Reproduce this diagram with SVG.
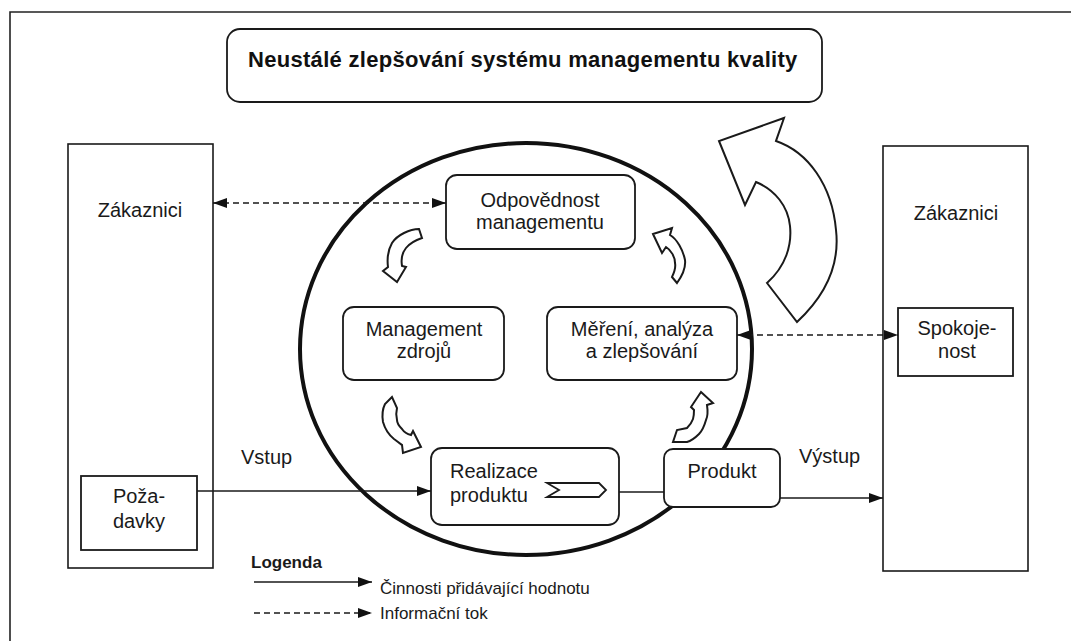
<svg xmlns="http://www.w3.org/2000/svg" width="1071" height="641" viewBox="0 0 1071 641">
  <style>
    .box { fill: #fff; stroke: #1a1a1a; stroke-width: 1.8; }
    .plain { fill: none; stroke: #1a1a1a; stroke-width: 1.6; }
    .txt { font-family: "Liberation Sans", Arial, sans-serif; font-size: 20px; fill: #1a1a1a; }
    .mid { text-anchor: middle; }
    .title { font-family: "Liberation Sans", Arial, sans-serif; font-size: 22px; font-weight: bold; fill: #111; letter-spacing: 0.3px; }
    .leg { font-family: "Liberation Sans", Arial, sans-serif; font-size: 17px; fill: #1a1a1a; }
    .flow { fill: none; stroke: #1a1a1a; stroke-width: 1.6; }
    .info { fill: none; stroke: #1a1a1a; stroke-width: 1.6; stroke-dasharray: 6 4; }
    .turn { fill: #fff; stroke: #1a1a1a; stroke-width: 2; stroke-linejoin: miter; }
  </style>
  <defs>
    <marker id="head" viewBox="0 0 14 10" refX="14" refY="5" markerWidth="14" markerHeight="10" markerUnits="userSpaceOnUse" orient="auto-start-reverse">
      <path d="M0,0 L14,5 L0,10 Z" fill="#111"/>
    </marker>
  </defs>

  <!-- page frame -->
  <path d="M10,641 L10,12 L1071,12" fill="none" stroke="#222" stroke-width="1.6"/>

  <!-- continual improvement banner -->
  <g id="banner">
    <rect class="box" x="227" y="29" width="595" height="73" rx="13"/>
    <text class="title" x="248" y="67">Neustálé zlepšování systému managementu kvality</text>
  </g>

  <!-- customers (input side) -->
  <g id="customers-in">
    <rect class="plain" x="68" y="144" width="145" height="424"/>
    <text class="txt mid" x="140" y="217">Zákaznici</text>
  </g>
  <g id="requirements">
    <rect class="box" x="81" y="476" width="116" height="74"/>
    <text class="txt mid" x="139" y="503">Poža-</text>
    <text class="txt mid" x="139" y="528">davky</text>
  </g>

  <!-- customers (output side) -->
  <g id="customers-out">
    <rect class="plain" x="883" y="146" width="145" height="425"/>
    <text class="txt mid" x="956" y="220">Zákaznici</text>
  </g>
  <g id="satisfaction">
    <rect class="box" x="898" y="308" width="115" height="68"/>
    <text class="txt mid" x="957" y="335">Spokoje-</text>
    <text class="txt mid" x="957" y="358">nost</text>
  </g>

  <!-- process cycle -->
  <g id="cycle">
    <ellipse cx="526" cy="349" rx="226" ry="206" fill="none" stroke="#111" stroke-width="4"/>
  </g>

  <!-- big improvement arrow -->
  <g id="improve-arrow">
    <path class="turn" d="M784,118 L776,141 C808,152 832,185 836,230 C840,265 826,295 797,322 L767,283 C786,266 792,245 790,226 C788,206 775,190 756,182 L745,205 L719,141 Z"/>
  </g>

  <!-- small cycle arrows -->
  <g id="cycle-arrows">
    <path class="turn" d="M419,229 C410,229 397,235 392,243 C388,250 387,259 388,267 L383,271 L397,282 L406,267 L402,266 C401,260 402,253 406,248 C410,243 416,240 422,238 Z"/>
    <path class="turn" d="M653,234 L672,228 L670,235 C677,239 683,250 685,260 C686,268 682,276 677,283 L672,277 C674,273 676,268 675,263 C675,257 671,250 666,247 L662,253 Z"/>
    <path class="turn" d="M392,397 L385,404 C382,410 382,416 383,422 C385,429 389,435 394,439 C397,441 400,444 402,445 L403,453 L421,447 L413,431 L411,435 C407,434 404,432 402,429 C399,426 397,423 397,420 C396,416 396,412 397,408 Z"/>
    <path class="turn" d="M701,392 L713,403 L707,405 C708,412 707,418 706,420 C704,427 702,431 699,434 C695,438 691,441 687,442 L673,442 L677,430 L687,428 C690,425 692,422 693,419 C694,416 694,413 694,410 L691,407 Z"/>
  </g>

  <!-- process nodes -->
  <g id="management-responsibility">
    <rect class="box" x="446" y="175" width="189" height="74" rx="11"/>
    <text class="txt mid" x="540" y="207">Odpovědnost</text>
    <text class="txt mid" x="540" y="229">managementu</text>
  </g>
  <g id="resource-management">
    <rect class="box" x="343" y="307" width="161" height="73" rx="11"/>
    <text class="txt mid" x="424" y="336">Management</text>
    <text class="txt mid" x="424" y="358">zdrojů</text>
  </g>
  <g id="measurement">
    <rect class="box" x="547" y="307" width="190" height="73" rx="11"/>
    <text class="txt mid" x="642" y="336">Měření, analýza</text>
    <text class="txt mid" x="642" y="358">a zlepšování</text>
  </g>
  <g id="product-realization">
    <rect class="box" x="431" y="448" width="188" height="77" rx="11"/>
    <text class="txt" x="450" y="478">Realizace</text>
    <text class="txt" x="450" y="502">produktu</text>
    <path d="M547,483 L599,483 L606,490 L599,497 L547,497 L559,490 Z" fill="#fff" stroke="#1a1a1a" stroke-width="1.8"/>
  </g>
  <g id="product">
    <rect class="box" x="664" y="449" width="116" height="58" rx="9"/>
    <text class="txt mid" x="722" y="478">Produkt</text>
  </g>

  <!-- connectors -->
  <g id="connectors">
    <line class="info" x1="213" y1="203" x2="446" y2="203" marker-start="url(#head)" marker-end="url(#head)"/>
    <line class="info" x1="737" y1="335" x2="898" y2="335" marker-start="url(#head)" marker-end="url(#head)"/>
    <line class="flow" x1="197" y1="491" x2="431" y2="491" marker-end="url(#head)"/>
    <line class="flow" x1="619" y1="492" x2="664" y2="492"/>
    <line class="flow" x1="780" y1="498" x2="883" y2="498" marker-end="url(#head)"/>
  </g>

  <!-- flow labels -->
  <text class="txt" x="241" y="464">Vstup</text>
  <text class="txt" x="799" y="463">Výstup</text>

  <!-- legend -->
  <g id="legend">
    <text class="leg" x="251" y="568" font-weight="bold">Logenda</text>
    <line class="flow" x1="254" y1="582" x2="372" y2="582" marker-end="url(#head)"/>
    <text class="leg" x="380" y="594">Činnosti přidávající hodnotu</text>
    <line class="info" x1="254" y1="613" x2="372" y2="613" marker-end="url(#head)"/>
    <text class="leg" x="380" y="619">Informační tok</text>
  </g>
</svg>
